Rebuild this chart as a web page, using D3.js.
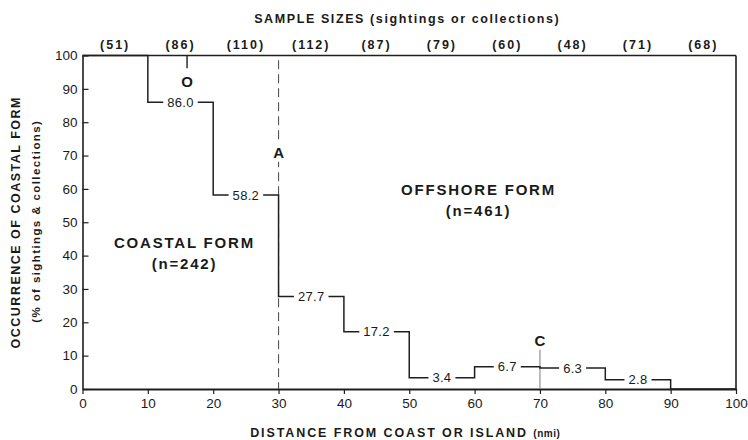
<!DOCTYPE html>
<html>
<head>
<meta charset="utf-8">
<script src="https://cdn.jsdelivr.net/npm/d3@7"></script>
<style>
  html, body { margin: 0; padding: 0; background: #fff; }
  svg { display: block; }
  text { font-family: "Liberation Sans", Arial, Helvetica, sans-serif; fill: #1a1a1a; }
</style>
</head>
<body>
<svg id="chart" width="748" height="440"></svg>
<script>
// ---- data ----
const binStarts = [0, 10, 20, 30, 40, 50, 60, 70, 80, 90];      // distance bins (nmi)
const coastalPct = [100, 86.0, 58.2, 27.7, 17.2, 3.4, 6.7, 6.3, 2.8, 0]; // % coastal form
const stepLabels = ["", "86.0", "58.2", "27.7", "17.2", "3.4", "6.7", "6.3", "2.8", ""];
const sampleSizes = [51, 86, 110, 112, 87, 79, 60, 48, 71, 68];
const xTicks = [0, 10, 20, 30, 40, 50, 60, 70, 80, 90, 100];
const yTicks = [0, 10, 20, 30, 40, 50, 60, 70, 80, 90, 100];
const markers = [
  {name: "O", x: 16, lineTop: 100, lineBottom: 96.2, labelY: 92.3},
  {name: "A", x: 30, lineTop: 98.6, lineBottom: 0, labelY: 71},
  {name: "C", x: 70, lineTop: 11.8, lineBottom: 0, labelY: 14.6}
];
const forms = [
  {title: "COASTAL FORM", n: "(n=242)", x: 15.6, y: 42.2},
  {title: "OFFSHORE FORM", n: "(n=461)", x: 60.6, y: 58.2}
];

// ---- layout ----
const W = 748, H = 440;
const m = {left: 82.5, right: 12, top: 55.5, bottom: 51};
const svg = d3.select("#chart");
const x = d3.scaleLinear().domain([0, 100]).range([m.left, W - m.right]);
const y = d3.scaleLinear().domain([0, 100]).range([H - m.bottom, m.top]);
const ink = "#1f1f1f";

// frame: top and right border lines
svg.append("line").attr("x1", x(0)).attr("x2", x(100)).attr("y1", y(100)).attr("y2", y(100))
  .attr("stroke", ink).attr("stroke-width", 1.6);
svg.append("line").attr("x1", x(100)).attr("x2", x(100)).attr("y1", y(100)).attr("y2", y(0))
  .attr("stroke", ink).attr("stroke-width", 1.6);

// x axis (bottom)
const xAxis = svg.append("g").attr("transform", `translate(0,${y(0)})`)
  .call(d3.axisBottom(x).tickValues(xTicks).tickSize(5).tickSizeOuter(0).tickPadding(4));
xAxis.select(".domain").attr("stroke", ink).attr("stroke-width", 1.8);
xAxis.selectAll(".tick line").attr("stroke", ink).attr("stroke-width", 1.2);
xAxis.selectAll(".tick text").style("font-size", "13.5px").attr("fill", ink);

// y axis (left), inward ticks
const yAxis = svg.append("g").attr("transform", `translate(${x(0)},0)`)
  .call(d3.axisLeft(y).tickValues(yTicks).tickSize(-6).tickSizeOuter(0).tickPadding(5));
yAxis.select(".domain").attr("stroke", ink).attr("stroke-width", 1.6);
yAxis.selectAll(".tick line").attr("stroke", ink).attr("stroke-width", 1.2);
yAxis.selectAll(".tick text").style("font-size", "13.5px").attr("fill", ink);

// top axis: sample sizes centred on bins
const mids = binStarts.map(b => b + 5);
svg.append("g").selectAll("text").data(sampleSizes).join("text")
  .attr("x", (d, i) => x(mids[i])).attr("y", 48.5)
  .attr("text-anchor", "middle")
  .style("font-size", "12.5px").style("font-weight", "bold").style("letter-spacing", "2px")
  .text(d => `(${d})`);

svg.append("text").attr("x", x(50) - 2).attr("y", 22.5).attr("text-anchor", "middle")
  .style("font-size", "12.5px").style("font-weight", "bold").style("letter-spacing", "1.6px")
  .text("SAMPLE SIZES (sightings or collections)");

// x axis title
const xt = svg.append("text").attr("x", x(50) - 4).attr("y", 437).attr("text-anchor", "middle")
  .style("font-size", "12.5px").style("font-weight", "bold").style("letter-spacing", "1.9px");
xt.append("tspan").text("DISTANCE FROM COAST OR ISLAND ");
xt.append("tspan").style("font-size", "10px").style("letter-spacing", "0.5px").text("(nmi)");

// y axis titles
svg.append("text").attr("transform", `translate(20,${y(50)}) rotate(-90)`).attr("text-anchor", "middle")
  .style("font-size", "12.5px").style("font-weight", "bold").style("letter-spacing", "1.5px")
  .text("OCCURRENCE OF COASTAL FORM");
svg.append("text").attr("transform", `translate(40,${y(50) - 1}) rotate(-90)`).attr("text-anchor", "middle")
  .style("font-size", "11.5px").style("font-weight", "bold").style("letter-spacing", "1.4px")
  .text("(% of sightings & collections)");

// dashed boundary line A and marker lines
markers.forEach(mk => {
  svg.append("line").attr("x1", x(mk.x)).attr("x2", x(mk.x))
    .attr("y1", y(mk.lineTop)).attr("y2", y(mk.lineBottom))
    .attr("stroke", mk.name === "A" ? "#555" : (mk.name === "C" ? "#888" : ink))
    .attr("stroke-width", mk.name === "O" ? 1.4 : 1.1)
    .attr("stroke-dasharray", mk.name === "A" ? "9,5" : null);
});

// step line
const stepPts = [];
binStarts.forEach((b, i) => {
  stepPts.push([b, coastalPct[i]]);
  stepPts.push([b + 10, coastalPct[i]]);
});
svg.append("path").datum(stepPts)
  .attr("d", d3.line().x(d => x(d[0])).y(d => y(d[1])))
  .attr("fill", "none").attr("stroke", ink).attr("stroke-width", 1.5);

// labels on steps, knocking out the line behind them
const lblG = svg.append("g");
stepLabels.forEach((t, i) => {
  if (!t) return;
  const g = lblG.append("g");
  const tx = g.append("text").attr("x", x(mids[i])).attr("y", y(coastalPct[i]) + 4.6)
    .attr("text-anchor", "middle").style("font-size", "13px").style("letter-spacing", "0.3px")
    .attr("fill", ink).text(t);
  const bb = tx.node().getBBox();
  g.insert("rect", "text").attr("x", bb.x - 4).attr("y", bb.y).attr("width", bb.width + 8)
    .attr("height", bb.height).attr("fill", "#fff");
});

// marker letters
markers.forEach(mk => {
  const g = svg.append("g");
  const tx = g.append("text").attr("x", x(mk.x)).attr("y", y(mk.labelY) + 5.5)
    .attr("text-anchor", "middle").style("font-size", "15px").style("font-weight", "bold")
    .attr("fill", ink).text(mk.name);
  if (mk.name === "A") {
    const bb = tx.node().getBBox();
    g.insert("rect", "text").attr("x", bb.x - 1).attr("y", bb.y - 1).attr("width", bb.width + 2)
      .attr("height", bb.height + 2).attr("fill", "#fff");
  }
});

// form labels
forms.forEach(f => {
  svg.append("text").attr("x", x(f.x)).attr("y", y(f.y)).attr("text-anchor", "middle")
    .style("font-size", "15px").style("font-weight", "bold").style("letter-spacing", "1.8px")
    .text(f.title);
  svg.append("text").attr("x", x(f.x)).attr("y", y(f.y) + 21).attr("text-anchor", "middle")
    .style("font-size", "15px").style("font-weight", "bold").style("letter-spacing", "1.8px")
    .text(f.n);
});
</script>
</body>
</html>
